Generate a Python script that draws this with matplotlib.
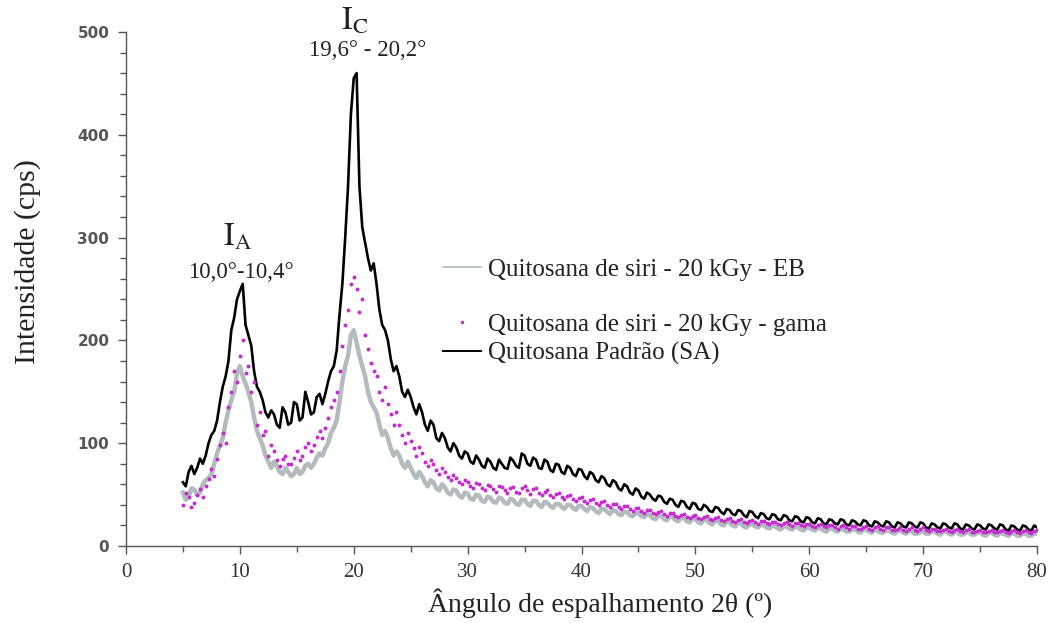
import numpy as np
import matplotlib
matplotlib.use("Agg")
import matplotlib.pyplot as plt
from matplotlib.lines import Line2D

# 2-theta grid (degrees): main readings every 0.5 deg from 5 to 80,
# intermediate readings every 0.5 deg from 5.25 to 79.75
two_theta_start, two_theta_stop, two_theta_step = 5.0, 80.0, 0.5

# Quitosana Padrão (SA) - black
sa = [62, 72, 70, 85, 88, 108, 122, 155, 180, 222, 248, 215, 195, 155, 142, 125, 128, 115, 130, 120,
      138, 125, 140, 130, 148, 148, 170, 190, 255, 350, 455, 350, 295, 268, 255, 215, 200, 170, 165, 145,
      145, 128, 130, 112, 118, 102, 105, 92, 96, 85, 90, 80, 84, 76, 82, 74, 80, 75, 83, 76,
      88, 78, 84, 75, 82, 72, 79, 70, 76, 68, 74, 65, 70, 62, 66, 58, 62, 54, 58, 50,
      54, 46, 50, 44, 48, 41, 45, 38, 43, 36, 41, 35, 38, 33, 37, 31, 35, 30, 34, 28,
      33, 27, 31, 26, 30, 25, 29, 24, 28, 23, 27, 22, 26, 21, 25, 21, 25, 20, 24, 20,
      24, 19, 23, 19, 23, 18, 22, 18, 22, 18, 22, 17, 21, 17, 21, 17, 21, 16, 20, 16,
      20, 16, 20, 16, 20, 15, 19, 15, 19, 15, 18]
sa_mid = [58, 78, 76, 80, 100, 112, 140, 165, 210, 240, 255, 205, 170, 150, 130, 132, 118, 135, 118, 140,
          122, 150, 128, 145, 138, 160, 175, 225, 300, 420, 460, 310, 280, 275, 230, 210, 182, 175, 150, 152,
          135, 138, 118, 122, 105, 110, 96, 100, 88, 92, 82, 88, 78, 85, 76, 84, 76, 86, 78, 90,
          80, 86, 76, 84, 74, 80, 72, 78, 70, 75, 68, 72, 64, 68, 60, 64, 56, 60, 52, 56,
          48, 52, 46, 49, 43, 46, 40, 44, 38, 42, 36, 40, 34, 38, 33, 36, 31, 35, 30, 34,
          29, 32, 27, 31, 26, 30, 25, 29, 24, 28, 23, 27, 22, 26, 22, 26, 21, 25, 21, 25,
          20, 24, 20, 24, 19, 23, 19, 23, 19, 23, 18, 22, 18, 22, 18, 22, 17, 21, 17, 21,
          17, 21, 17, 21, 16, 20, 16, 20, 16, 20]

# Quitosana de siri - 20 kGy - EB - light grey
eb = [52, 48, 55, 52, 64, 70, 90, 105, 132, 150, 175, 158, 140, 112, 98, 82, 82, 72, 76, 68,
      76, 72, 80, 80, 90, 95, 110, 122, 160, 185, 210, 185, 165, 140, 130, 108, 105, 88, 88, 76,
      76, 66, 68, 58, 62, 54, 57, 50, 54, 47, 51, 45, 49, 43, 47, 42, 46, 41, 45, 40,
      45, 39, 44, 38, 42, 37, 41, 36, 40, 35, 39, 34, 37, 32, 36, 31, 34, 30, 33, 29,
      32, 28, 30, 26, 29, 25, 28, 24, 27, 23, 26, 22, 25, 21, 24, 20, 23, 19, 22, 18,
      21, 18, 20, 17, 19, 16, 19, 16, 18, 15, 18, 15, 17, 14, 17, 14, 16, 14, 16, 13,
      16, 13, 15, 13, 15, 12, 15, 12, 14, 12, 14, 12, 14, 11, 14, 11, 13, 11, 13, 11,
      13, 10, 13, 10, 12, 10, 12, 10, 12, 10, 12]
eb_mid = [45, 56, 50, 60, 66, 80, 98, 120, 142, 168, 165, 150, 125, 105, 88, 76, 78, 70, 72, 70,
          70, 78, 76, 86, 88, 100, 115, 140, 175, 205, 198, 175, 150, 135, 118, 112, 95, 92, 80, 82,
          70, 72, 62, 64, 56, 60, 52, 55, 49, 52, 46, 50, 44, 48, 43, 47, 42, 46, 41, 45,
          41, 44, 40, 43, 39, 41, 38, 40, 37, 39, 36, 38, 34, 36, 33, 35, 31, 33, 30, 32,
          29, 31, 27, 30, 26, 29, 25, 28, 24, 27, 23, 26, 22, 25, 21, 24, 20, 23, 19, 21,
          19, 21, 18, 20, 17, 19, 17, 19, 16, 18, 16, 18, 15, 17, 15, 17, 14, 16, 14, 16,
          14, 16, 13, 15, 13, 15, 13, 15, 12, 14, 12, 14, 12, 14, 12, 14, 11, 13, 11, 13,
          11, 13, 11, 13, 11, 12, 10, 12, 10, 12]

# Quitosana de siri - 20 kGy - gama - magenta points
gama = [40, 48, 42, 55, 58, 75, 85, 110, 135, 170, 185, 168, 150, 118, 108, 88, 92, 78, 88, 80,
        92, 88, 100, 98, 112, 115, 135, 150, 195, 230, 262, 228, 205, 178, 165, 142, 138, 118, 118, 100,
        102, 88, 90, 78, 80, 70, 72, 64, 66, 60, 62, 56, 60, 54, 58, 53, 57, 52, 57, 52,
        58, 51, 56, 50, 54, 48, 52, 46, 50, 44, 48, 42, 46, 40, 44, 38, 41, 36, 39, 34,
        37, 32, 35, 31, 34, 29, 32, 28, 31, 27, 30, 26, 29, 25, 28, 24, 27, 23, 26, 22,
        25, 21, 24, 21, 23, 20, 23, 19, 22, 19, 21, 18, 21, 18, 20, 17, 20, 17, 19, 17,
        19, 16, 19, 16, 18, 16, 18, 15, 18, 15, 18, 15, 17, 15, 17, 14, 17, 14, 17, 14,
        16, 14, 16, 14, 16, 13, 16, 13, 16, 13, 16]
gama_mid = [52, 38, 50, 48, 65, 68, 98, 100, 150, 160, 200, 175, 160, 130, 112, 98, 84, 85, 80, 86,
            84, 96, 92, 106, 105, 125, 142, 170, 215, 255, 250, 240, 192, 170, 150, 155, 128, 130, 108, 110,
            95, 96, 82, 84, 74, 76, 67, 69, 62, 64, 58, 61, 56, 59, 55, 58, 54, 56, 53, 56,
            54, 55, 52, 53, 50, 51, 48, 49, 46, 47, 44, 45, 42, 43, 40, 41, 38, 39, 36, 37,
            34, 35, 32, 33, 31, 32, 29, 30, 28, 29, 27, 28, 26, 27, 25, 26, 24, 25, 23, 24,
            23, 24, 22, 23, 21, 22, 21, 22, 20, 21, 19, 20, 19, 20, 18, 19, 18, 19, 17, 18,
            17, 18, 17, 18, 16, 17, 16, 17, 16, 17, 16, 17, 15, 16, 15, 16, 15, 16, 14, 15,
            14, 15, 14, 15, 14, 15, 14, 15, 14, 15]

labels = ["Quitosana de siri - 20 kGy - EB",
          "Quitosana de siri - 20 kGy - gama",
          "Quitosana Padrão (SA)"]
x_ticks = [0, 10, 20, 30, 40, 50, 60, 70, 80]
y_ticks = [0, 100, 200, 300, 400, 500]

n = int(round((two_theta_stop - two_theta_start) / two_theta_step)) + 1
x_main = two_theta_start + two_theta_step * np.arange(n)
x_mid = two_theta_start + two_theta_step / 2 + two_theta_step * np.arange(n - 1)
x_all = np.concatenate([x_main, x_mid])
order = np.argsort(x_all)
x = x_all[order]


def merge(main, mid):
    return np.concatenate([np.asarray(main, float), np.asarray(mid, float)])[order]


sa_y = merge(sa, sa_mid)
eb_y = merge(eb, eb_mid)
gama_y = merge(gama, gama_mid)

serif = ["Liberation Serif", "DejaVu Serif"]
plt.rcParams["mathtext.fontset"] = "stix"

fig = plt.figure(figsize=(10.55, 6.23), dpi=100)
ax = fig.add_axes([0.1194, 0.1236, 0.8636, 0.8250])

grey_c = "#b4bbbf"
mag_c = "#c42ccf"

ax.plot(x, eb_y, color=grey_c, lw=3.2, zorder=2)
ax.plot(x, sa_y, color="black", lw=1.9, zorder=3)
ax.scatter(x, gama_y, s=8, color=mag_c, zorder=4, linewidths=0)

ax.set_xlim(0, 80)
ax.set_ylim(0, 500)
ax.set_xticks(x_ticks)
ax.set_xticks(np.arange(0, 81, 5), minor=True)
ax.set_yticks(y_ticks)
ax.set_yticks(np.arange(0, 501, 20), minor=True)

for s in ["top", "right"]:
    ax.spines[s].set_visible(False)
for s in ["left", "bottom"]:
    ax.spines[s].set_color("#555555")
    ax.spines[s].set_linewidth(1.0)

ax.tick_params(axis="both", which="major", direction="out", length=6, color="#555555", width=1)
ax.tick_params(axis="both", which="minor", direction="out", length=4, color="#555555", width=1)
ax.tick_params(axis="x", labelsize=15, pad=6)
ax.tick_params(axis="y", labelsize=11, pad=6, labelcolor="#555555")
for lab in ax.get_xticklabels():
    lab.set_fontfamily(serif)
    lab.set_color("#333333")
for lab in ax.get_yticklabels():
    lab.set_fontfamily(["DejaVu Sans"])
    lab.set_fontweight("bold")

ax.set_xlabel("Ângulo de espalhamento 2θ (º)", fontsize=20, family=serif, color="#222222")
ax.xaxis.set_label_coords(0.52, -0.082)
ax.set_ylabel("Intensidade (cps)", fontsize=21.5, family=serif, color="#222222", va="center")
ax.yaxis.set_label_coords(-0.108, 0.553)

ax.text(9.75, 300, r"$\mathrm{I}_{\mathrm{A}}$", fontsize=23, ha="center", va="center", color="#222222")
ax.text(10.1, 266, "10,0°-10,4°", fontsize=16.5, family=serif, ha="center", va="center", color="#222222")
ax.text(20.1, 510, r"$\mathrm{I}_{\mathrm{C}}$", fontsize=23, ha="center", va="center",
        color="#222222", clip_on=False)
ax.text(21.2, 482, "19,6° - 20,2°", fontsize=16.5, family=serif, ha="center", va="center", color="#222222")

prop = {"family": serif, "size": 18}
h_eb = Line2D([], [], color=grey_c, lw=1.2)
h_gama = Line2D([], [], color=mag_c, marker=".", ms=3, ls="none")
h_sa = Line2D([], [], color="black", lw=1.4)
leg1 = ax.legend([h_eb], labels[:1], loc="center left", bbox_to_anchor=(0.348, 0.537), frameon=False,
                 prop=prop, handlelength=1.5, handletextpad=0.3, borderpad=0, borderaxespad=0)
ax.add_artist(leg1)
leg2 = ax.legend([h_gama, h_sa], labels[1:], loc="center left", bbox_to_anchor=(0.348, 0.402),
                 frameon=False, prop=prop, handlelength=1.5, handletextpad=0.3, borderpad=0,
                 borderaxespad=0, labelspacing=0.25)
for lg in (leg1, leg2):
    for t in lg.get_texts():
        t.set_color("#222222")

fig.savefig("out.png", dpi=100)
